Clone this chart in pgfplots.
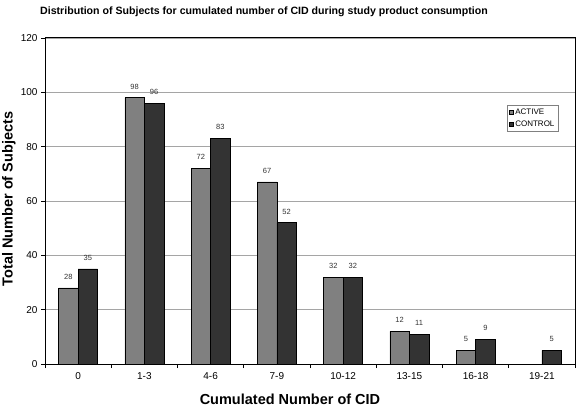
\documentclass[border=0pt]{standalone}
\usepackage{fontspec}
\setmainfont{Liberation Sans}
\usepackage{pgfplots}
\pgfplotsset{compat=1.18}
\definecolor{activec}{RGB}{128,128,128}
\definecolor{controlc}{RGB}{51,51,51}
\definecolor{gridc}{RGB}{165,165,165}
\begin{document}
\begin{tikzpicture}
\begin{axis}[
  at={(45pt,43pt)}, anchor=south west,
  scale only axis, width=530pt, height=326pt,
  xmin=-0.5, xmax=7.5, ymin=0, ymax=120,
  ytick={0,20,...,120},
  xtick={0,...,7},
  xticklabels={0,1-3,4-6,7-9,10-12,13-15,16-18,19-21},
  minor xtick={-0.5,0.5,...,7.5},
  major x tick style={draw=none},
  minor x tick style={draw=black, line width=0.6pt},
  ytick style={draw=black, line width=0.6pt},
  xtick pos=bottom, ytick pos=left,
  tick align=outside, major tick length=4pt, minor tick length=4pt,
  ymajorgrids, grid style={gridc, line width=0.8pt},
  axis line style={line width=1pt},
  /pgf/number format/assume math mode=true,
  xticklabel style={font=\fontsize{10}{12}\selectfont, yshift=-1pt},
  yticklabel style={font=\fontsize{10}{12}\selectfont},
  ybar=0pt, bar width=19.5pt,
  nodes near coords,
  every node near coord/.append style={font=\fontsize{7.5}{8}\selectfont, color=black!80, yshift=5pt},
  legend style={at={(0.872,0.794)}, anchor=north west, draw=gray, line width=0.5pt,
    font=\fontsize{8}{9}\selectfont, inner sep=1.5pt, row sep=1pt},
  legend cell align=left,
  legend image code/.code={\draw[#1, draw=black, line width=0.4pt] (0pt,-2pt) rectangle (4pt,2pt);},
]
\addplot[fill=activec, draw=black, line width=0.6pt] coordinates {(0,28) (1,98) (2,72) (3,67) (4,32) (5,12) (6,5)};
\addplot[fill=controlc, draw=black, line width=0.6pt] coordinates {(0,35) (1,96) (2,83) (3,52) (4,32) (5,11) (6,9) (7,5)};
\legend{ACTIVE,CONTROL}
\end{axis}
\node[font=\bfseries\fontsize{10.6}{12}\selectfont] at (264pt,395pt) {Distribution of Subjects for cumulated number of CID during study product consumption};
\node[font=\bfseries\fontsize{14.5}{16}\selectfont] at (290pt,8pt) {Cumulated Number of CID};
\node[rotate=90, font=\bfseries\fontsize{14.5}{16}\selectfont] at (9pt,208pt) {Total Number of Subjects};
\pgfresetboundingbox
\useasboundingbox (0pt,0pt) rectangle (577pt,407pt);
\end{tikzpicture}
\end{document}
